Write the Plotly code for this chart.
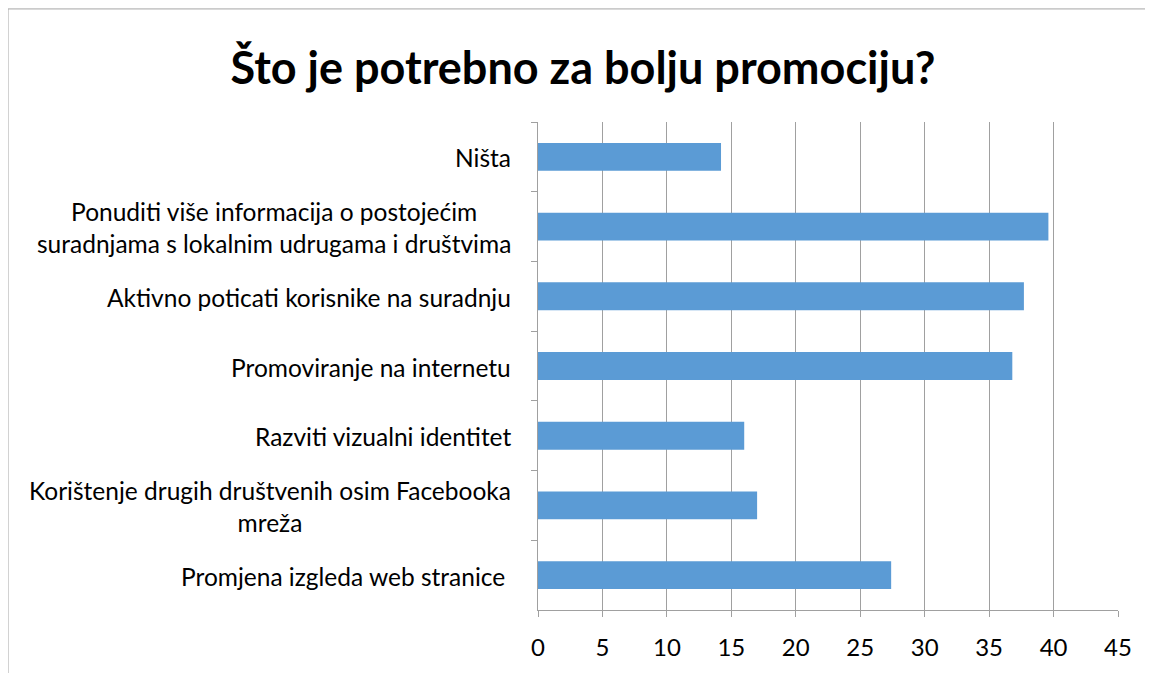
import plotly.graph_objects as go

categories = [
    "Ništa",
    "Ponuditi više informacija o postojećim<br>suradnjama s lokalnim udrugama i društvima",
    "Aktivno poticati korisnike na suradnju",
    "Promoviranje na internetu",
    "Razviti vizualni identitet",
    "Korištenje drugih društvenih osim Facebooka<br>mreža",
    "Promjena izgleda web stranice ",
]
values = [14.2, 39.6, 37.7, 36.8, 16.0, 17.0, 27.4]
x_ticks = [0, 5, 10, 15, 20, 25, 30, 35, 40, 45]
title_text = "Što je potrebno za bolju promociju?"

W, H = 1145, 665
L, R, T, B = 530, 35, 114, 59
pw, ph = W - L - R, H - T - B
FONT = "Lato, Open Sans, sans-serif"

fig = go.Figure()
fig.add_trace(go.Bar(
    y=categories, x=values, orientation="h",
    marker=dict(color="#5B9BD5", line=dict(width=0)),
    hoverinfo="x+y",
))

annotations = []
for c in categories:
    annotations.append(dict(
        x=0, xref="paper", y=c, yref="y", xanchor="right", yanchor="middle",
        xshift=-25, yshift=-1, text=c, showarrow=False, align="center",
        font=dict(family=FONT, size=24.5, color="#000000"),
    ))

def px2x(p):
    return (p - L) / pw

def py2y(p):
    return (H - B - p) / ph

fig.update_layout(
    width=W, height=H,
    margin=dict(l=L, r=R, t=T, b=B, pad=0),
    paper_bgcolor="white", plot_bgcolor="white",
    bargap=0.6,
    showlegend=False,
    title=dict(
        text="<b>" + title_text + "</b>",
        x=575 / W, xref="container", xanchor="center",
        y=1 - 60 / H, yref="container", yanchor="middle",
        font=dict(family=FONT, size=45, color="#000000"),
    ),
    xaxis=dict(
        range=[0, 45], tickvals=x_ticks, ticktext=[str(v) for v in x_ticks],
        showgrid=True, gridcolor="#a0a0a0", gridwidth=1,
        showline=True, linecolor="#a0a0a0", linewidth=1,
        ticks="outside", ticklen=6, tickcolor="#a0a0a0",
        ticklabelstandoff=10,
        zeroline=False,
        tickfont=dict(family=FONT, size=24, color="#000000"),
        fixedrange=True,
    ),
    yaxis=dict(
        categoryorder="array", categoryarray=categories,
        autorange="reversed",
        showticklabels=False,
        showgrid=False, zeroline=False,
        showline=True, linecolor="#a0a0a0", linewidth=1,
        ticks="outside", ticklen=6, tickcolor="#a0a0a0", tickson="boundaries",
        fixedrange=True,
    ),
    annotations=annotations,
    shapes=[dict(
        type="rect", xref="paper", yref="paper",
        x0=px2x(0), x1=px2x(W + 20), y0=py2y(H + 20), y1=py2y(0),
        line=dict(color="#a6a6a6", width=1), fillcolor="rgba(0,0,0,0)", layer="below",
    )],
)

fig.write_html("out.html")
